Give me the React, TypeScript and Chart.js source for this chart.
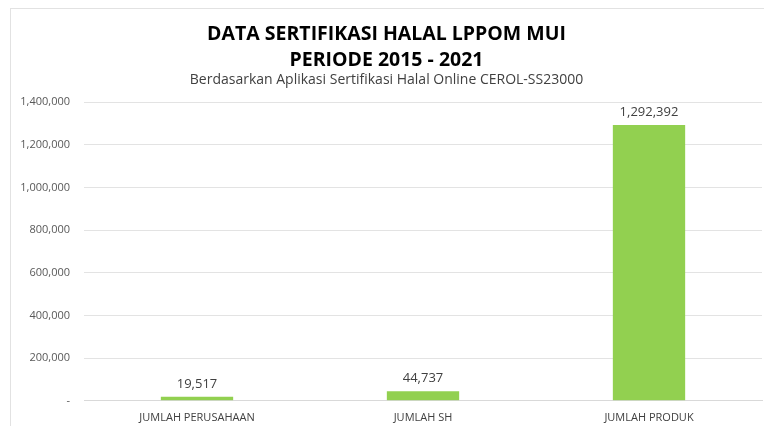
import React, { useEffect, useRef } from "react";
import { Chart, registerables } from "chart.js";

Chart.register(...registerables);

const categories = ["JUMLAH PERUSAHAAN", "JUMLAH SH", "JUMLAH PRODUK"];
const values = [19517, 44737, 1292392];
const titleLines = ["DATA SERTIFIKASI HALAL LPPOM MUI", "PERIODE 2015 - 2021"];
const subtitleText = "Berdasarkan Aplikasi Sertifikasi Halal Online CEROL-SS23000";

const fmt = (v: number) => v.toLocaleString("en-US");

const valueLabels = {
  id: "valueLabels",
  afterDatasetsDraw(chart: any) {
    const { ctx } = chart;
    const meta = chart.getDatasetMeta(0);
    ctx.save();
    ctx.font = "13px 'Open Sans', sans-serif";
    ctx.fillStyle = "#404040";
    ctx.textAlign = "center";
    ctx.textBaseline = "bottom";
    meta.data.forEach((bar: any, i: number) => {
      ctx.fillText(fmt(values[i]), bar.x, bar.y - 6);
    });
    ctx.restore();
  },
};

export default function App() {
  const ref = useRef<HTMLCanvasElement>(null);
  useEffect(() => {
    if (!ref.current) return;
    const chart = new Chart(ref.current, {
      type: "bar",
      data: {
        labels: categories,
        datasets: [
          {
            data: values,
            backgroundColor: "#92D050",
            categoryPercentage: 1,
            barPercentage: 0.32,
          },
        ],
      },
      options: {
        responsive: false,
        animation: false,
        layout: { padding: { left: 0, right: 15, top: 6, bottom: 0 } },
        plugins: {
          legend: { display: false },
          tooltip: { enabled: false },
          title: {
            display: true,
            text: titleLines,
            color: "#000000",
            font: { family: "'Open Sans', sans-serif", size: 19.5, weight: "bold", lineHeight: 1.3 },
            padding: { top: 7, bottom: 0 },
          },
          subtitle: {
            display: true,
            text: subtitleText,
            color: "#404040",
            font: { family: "'Open Sans', sans-serif", size: 14, lineHeight: 1.1 },
            padding: { top: 0, bottom: 14 },
          },
        },
        scales: {
          x: {
            grid: { display: false },
            border: { color: "#d9d9d9", width: 1 },
            ticks: {
              color: "#404040",
              font: { family: "'Open Sans', sans-serif", size: 11 },
              padding: 2,
            },
          },
          y: {
            min: 0,
            max: 1400000,
            grid: { color: "#e3e3e3", drawTicks: false },
            border: { display: false },
            afterFit: (scale: any) => {
              scale.width = 73;
            },
            ticks: {
              stepSize: 200000,
              color: "#595959",
              padding: 14,
              font: { family: "'Open Sans', sans-serif", size: 11 },
              callback: (v: any) => (Number(v) === 0 ? "-" : fmt(Number(v))),
            },
          },
        },
      },
      plugins: [valueLabels],
    });
    return () => chart.destroy();
  }, []);
  return (
    <div
      style={{
        position: "absolute",
        left: 10,
        top: 8,
        width: 754,
        height: 418,
        overflow: "hidden",
        borderTop: "1px solid #e2e2e2",
        borderLeft: "1px solid #e2e2e2",
        background: "#fff",
      }}
    >
      <canvas ref={ref} width={766} height={417} style={{ display: "block" }} />
    </div>
  );
}
